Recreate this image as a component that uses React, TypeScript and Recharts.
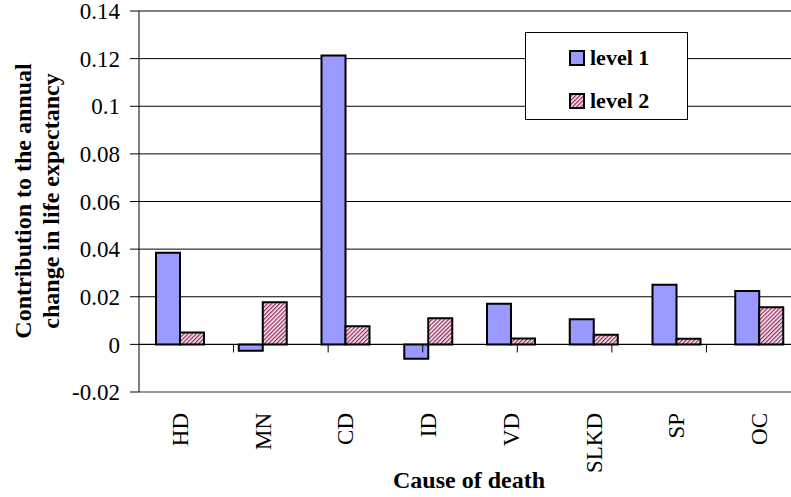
import React from 'react';
import { BarChart, Bar, XAxis, YAxis, CartesianGrid, ReferenceLine, Legend } from 'recharts';

const categories = ['HD', 'MN', 'CD', 'ID', 'VD', 'SLKD', 'SP', 'OC'];
const level1 = [0.0385, -0.0027, 0.1213, -0.006, 0.0171, 0.0106, 0.025, 0.0224];
const level2 = [0.005, 0.0177, 0.0076, 0.011, 0.0025, 0.004, 0.0024, 0.0156];
const yTicks = [-0.02, 0, 0.02, 0.04, 0.06, 0.08, 0.1, 0.12, 0.14];
const boundaries = [1, 2, 3, 4, 5, 6, 7];
const seriesNames = ['level 1', 'level 2'];

const data = categories.map((c, i) => ({ name: c, level1: level1[i], level2: level2[i] }));

const FONT = '"Liberation Serif", "Times New Roman", serif';

const CategoryTick = (props: any) => {
  const { x, y, payload } = props;
  const ay = y + 21;
  return (
    <text
      x={x}
      y={ay}
      transform={`rotate(-90, ${x}, ${ay})`}
      textAnchor="end"
      dominantBaseline="central"
      fontFamily={FONT}
      fontSize={23}
      fill="#000"
    >
      {payload.value}
    </text>
  );
};

const LegendContent = () => (
  <div
    style={{
      width: 163,
      height: 88,
      boxSizing: 'border-box',
      border: '1px solid #000',
      background: '#fff',
      position: 'relative',
      fontFamily: FONT,
      fontWeight: 'bold',
      fontSize: 22,
    }}
  >
    {seriesNames.map((n, i) => (
      <div key={n} style={{ position: 'absolute', left: 43, top: 14 + i * 43, display: 'flex', alignItems: 'center', lineHeight: '22px' }}>
        <svg width={16} height={16} style={{ display: 'block' }}>
          <defs>
            <pattern id={`lgstripes${i}`} patternUnits="userSpaceOnUse" width={2.9} height={2.9} patternTransform="rotate(45)">
              <rect x={0} y={0} width={2.9} height={2.9} fill="#fff" />
              <rect x={0} y={0} width={1.45} height={2.9} fill="#993366" />
            </pattern>
          </defs>
          <rect x={1} y={1} width={14} height={14} fill={i === 0 ? '#9999FF' : `url(#lgstripes${i})`} stroke="#000" strokeWidth={2} />
        </svg>
        <span style={{ marginLeft: 5, whiteSpace: 'nowrap' }}>{n}</span>
      </div>
    ))}
  </div>
);

export default function App() {
  return (
    <div style={{ position: 'absolute', left: 0, top: 0, width: 791, height: 497, overflow: 'hidden', background: '#fff' }}>
      <BarChart
        width={810}
        height={497}
        data={data}
        margin={{ top: 11, right: 9, bottom: 15, left: 0 }}
        barGap={0}
        barSize={24}
      >
        <defs>
          <pattern id="stripes" patternUnits="userSpaceOnUse" width={2.9} height={2.9} patternTransform="rotate(45)">
            <rect x={0} y={0} width={2.9} height={2.9} fill="#fff" />
            <rect x={0} y={0} width={1.45} height={2.9} fill="#993366" />
          </pattern>
        </defs>
        <CartesianGrid vertical={false} stroke="#000" strokeWidth={1} />
        <XAxis
          dataKey="name"
          height={90}
          axisLine={false}
          tickLine={false}
          tickSize={0}
          tickMargin={0}
          interval={0}
          tick={<CategoryTick />}
          label={{
            content: () => (
              <text x={469} y={488} textAnchor="middle" fontFamily={FONT} fontWeight="bold" fontSize={24} fill="#000">
                Cause of death
              </text>
            ),
          }}
        />
        <XAxis xAxisId="b" type="number" domain={[0, 8]} hide />
        <YAxis
          width={139}
          domain={[-0.02, 0.14]}
          ticks={yTicks}
          interval={0}
          tickSize={9}
          tickMargin={10}
          axisLine={{ stroke: '#000', strokeWidth: 1 }}
          tickLine={{ stroke: '#000' }}
          tick={{ fontFamily: FONT, fontSize: 23, fill: '#000' }}
          label={{
            content: () => (
              <text transform="rotate(-90, 0, 0)" fontFamily={FONT} fontWeight="bold" fontSize={24} fill="#000" textAnchor="middle">
                <tspan x={-201} y={31}>Contribution to the annual</tspan>
                <tspan x={-201} y={59}>change in life expectancy</tspan>
              </text>
            ),
          }}
        />
        <ReferenceLine y={-0.02} stroke="#999" strokeWidth={2} />
        <ReferenceLine y={0} stroke="#000" strokeWidth={1} />
        {boundaries.map((b) => (
          <ReferenceLine
            key={b}
            xAxisId="b"
            segment={[{ x: b, y: 0 }, { x: b, y: -0.0034 }]}
            stroke="#000"
            strokeWidth={1}
          />
        ))}
        <Bar dataKey="level1" name={seriesNames[0]} fill="#9999FF" stroke="#000" strokeWidth={2} isAnimationActive={false} />
        <Bar dataKey="level2" name={seriesNames[1]} fill="url(#stripes)" stroke="#000" strokeWidth={2} isAnimationActive={false} />
        <Legend
          layout="vertical"
          align="center"
          verticalAlign="middle"
          wrapperStyle={{ left: 525, top: 32, width: 163, height: 88 }}
          content={<LegendContent />}
        />
      </BarChart>
    </div>
  );
}
